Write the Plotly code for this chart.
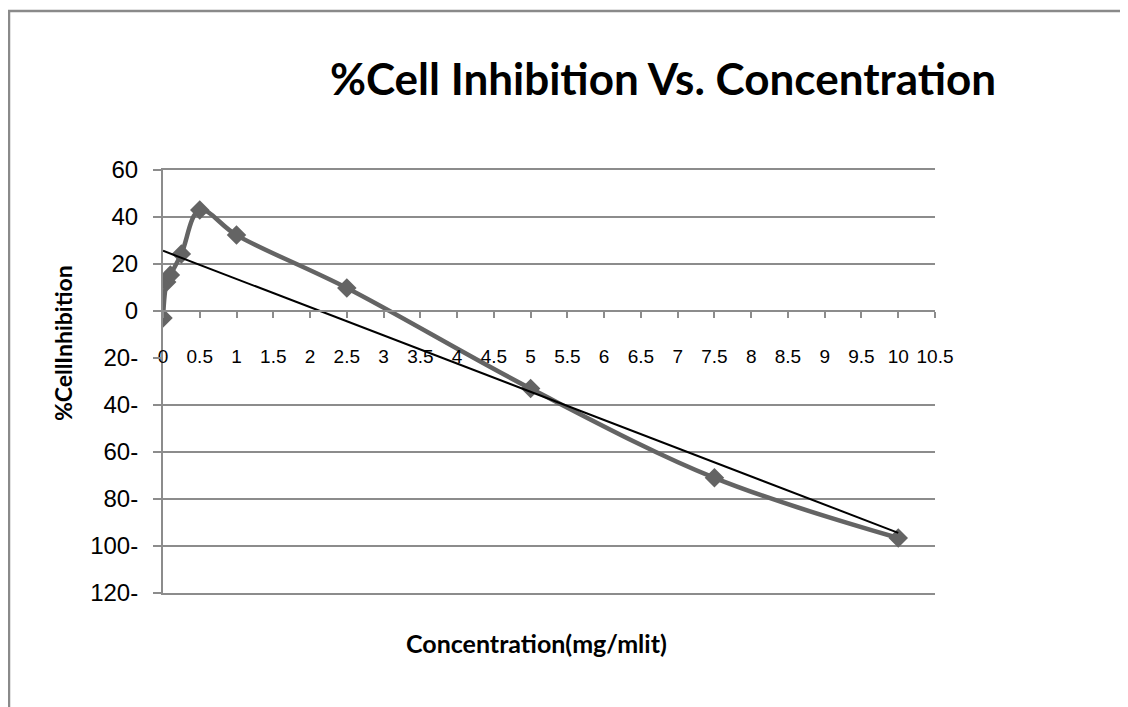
import numpy as np
import plotly.graph_objects as go

# Data
concentration = [0, 0.05, 0.1, 0.25, 0.5, 1, 2.5, 5, 7.5, 10]
inhibition = [-3, 12.3, 15.3, 24.3, 43, 32.3, 9.8, -33, -71, -96.6]

y_tick_vals = [60, 40, 20, 0, -20, -40, -60, -80, -100, -120]
y_tick_text = ["60", "40", "20", "0", "20-", "40-", "60-", "80-", "100-", "120-"]
y_grid_vals = [60, 40, 20, -40, -60, -80, -100, -120]
x_tick_vals = [i * 0.5 for i in range(22)]
x_tick_text = ["0", "0.5", "1", "1.5", "2", "2.5", "3", "3.5", "4", "4.5", "5",
               "5.5", "6", "6.5", "7", "7.5", "8", "8.5", "9", "9.5", "10", "10.5"]

title_text = "%Cell Inhibition Vs. Concentration"
x_title = "Concentration(mg/mlit)"
y_title = "%CellInhibition"

# Linear trendline (least squares fit of the series)
slope, intercept = np.polyfit(concentration, inhibition, 1)
trend_x = [min(concentration), max(concentration)]
trend_y = [slope * v + intercept for v in trend_x]

OFF = 8  # page body margin
W, H = 1128 - OFF, 707 - OFF
L, T = 163 - OFF, 170 - OFF
R = W - (935 - OFF)
B = H - (593 - OFF)
plot_w = W - L - R
plot_h = H - T - B

def px_x(p):
    return (p - OFF - L) / plot_w

def px_y(p):
    return (H - B - (p - OFF)) / plot_h

fig = go.Figure()
fig.add_trace(go.Scatter(
    x=concentration, y=inhibition, mode="lines+markers",
    line=dict(color="#646464", width=4.5, shape="spline", smoothing=1.0),
    marker=dict(symbol="diamond", size=15, color="#646464"),
    showlegend=False,
))
fig.add_trace(go.Scatter(
    x=trend_x, y=trend_y, mode="lines", xaxis="x2", yaxis="y2",
    line=dict(color="#000000", width=2),
    showlegend=False,
))

grid_col = "#8c8c8c"
bold_font = "Lato, Open Sans, sans-serif"
fig.update_layout(
    width=W, height=H,
    margin=dict(l=L, r=R, t=T, b=B, autoexpand=False),
    paper_bgcolor="white", plot_bgcolor="white",
    font=dict(family="Liberation Sans, Arial, sans-serif", color="#000000", size=18),
    title=dict(
        text="<b>" + title_text + "</b>",
        x=(663 - OFF) / W, xanchor="center", xref="container",
        y=1 - (80 - OFF) / H, yanchor="middle", yref="container",
        font=dict(family=bold_font, size=44, color="#000000"),
    ),
    xaxis=dict(
        range=[0, 10.5], tickvals=x_tick_vals, ticktext=x_tick_text,
        showgrid=False, zeroline=False,
        showline=True, linecolor=grid_col, linewidth=2,
        ticks="outside", ticklen=6, tickcolor=grid_col, tickwidth=1.5,
        anchor="free", position=120 / 180,
        tickfont=dict(size=19, color="#000000"), ticklabelstandoff=22,
    ),
    # frame lines at top (60) and bottom (-120) of the plot area
    xaxis2=dict(
        overlaying="x", matches="x", anchor="y2", side="bottom",
        showline=True, mirror=True, linecolor=grid_col, linewidth=1.5,
        showgrid=False, zeroline=False, showticklabels=False, ticks="",
    ),
    yaxis=dict(
        range=[-120, 60], tickvals=y_tick_vals, ticktext=y_tick_text,
        showgrid=False, zeroline=False,
        showline=True, linecolor=grid_col, linewidth=2,
        ticks="outside", ticklen=8, tickcolor=grid_col, tickwidth=1.5,
        tickfont=dict(size=24, color="#000000"), ticklabelstandoff=10,
    ),
    # gridlines (the -20 line is hidden behind the category labels in the original)
    yaxis2=dict(
        overlaying="y", matches="y", anchor="x2", side="left",
        tickvals=y_grid_vals, showgrid=True, gridcolor=grid_col, gridwidth=1.5,
        showline=False, zeroline=False, showticklabels=False, ticks="",
    ),
    annotations=[
        dict(text="<b>" + x_title + "</b>", xref="paper", yref="paper",
             x=px_x(536), y=px_y(643), xanchor="center", yanchor="middle",
             showarrow=False,
             font=dict(family=bold_font, size=25, color="#000000")),
        dict(text="<b>" + y_title + "</b>", xref="paper", yref="paper",
             x=px_x(63), y=px_y(343), xanchor="center", yanchor="middle",
             textangle=-90, showarrow=False,
             font=dict(family=bold_font, size=23, color="#000000")),
    ],
    shapes=[
        dict(type="rect", xref="paper", yref="paper",
             x0=px_x(9), x1=px_x(1128 + 50), y0=px_y(707 + 50), y1=px_y(11),
             line=dict(color="#8a8a8a", width=2.5), fillcolor="rgba(0,0,0,0)",
             layer="below"),
    ],
)

fig.write_html("out.html")
